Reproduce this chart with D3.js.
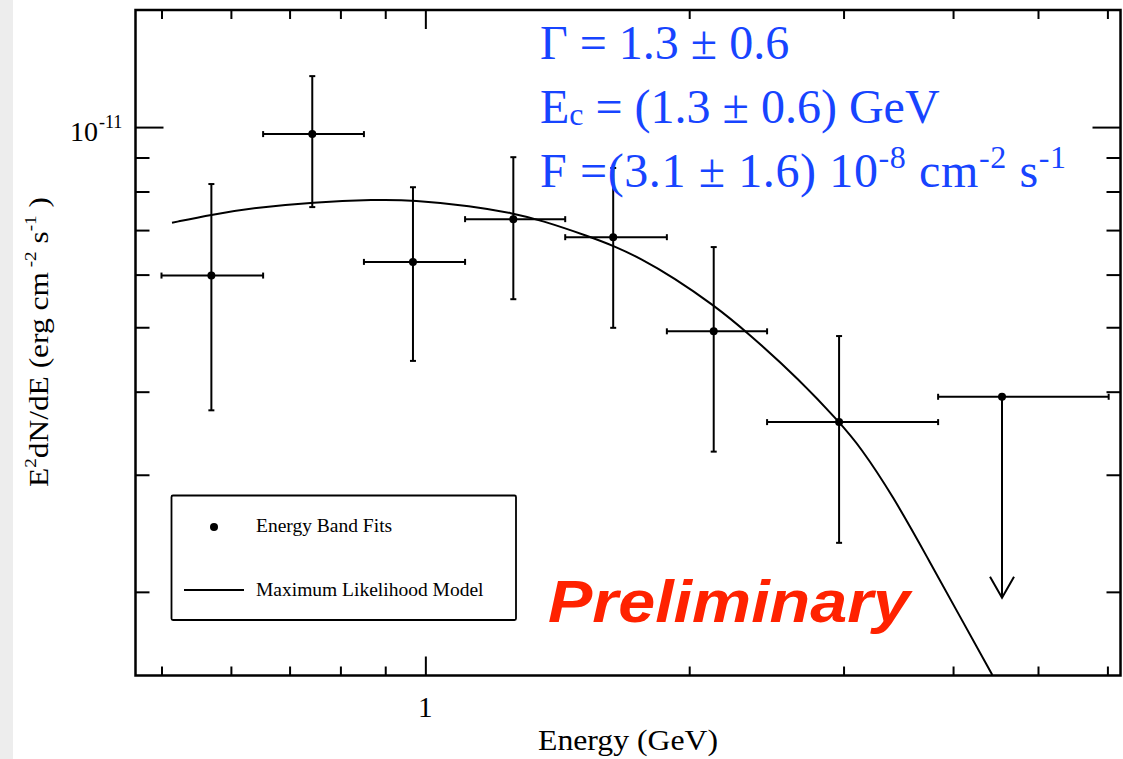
<!DOCTYPE html>
<html>
<head>
<meta charset="utf-8">
<script src="https://cdn.jsdelivr.net/npm/d3@7"></script>
<style>
  html, body { margin: 0; padding: 0; background: #fff; }
  svg { display: block; }
  .serif { font-family: "Liberation Serif", "Times New Roman", serif; }
</style>
</head>
<body>
<svg id="chart" width="1123" height="759"></svg>
<script>
// energy bins (GeV)
const eCenter = [0.570, 0.743, 0.968, 1.260, 1.638, 2.133, 2.965, 4.549];
const eLow    = [0.500, 0.653, 0.851, 1.110, 1.444, 1.886, 2.454, 3.846];
const eHigh   = [0.653, 0.851, 1.110, 1.444, 1.886, 2.454, 3.846, 6.020];
// E^2 dN/dE (erg cm^-2 s^-1)
const flux    = [5.98e-12, 9.76e-12, 6.27e-12, 7.27e-12, 6.83e-12, 4.93e-12, 3.60e-12, 3.93e-12];
const fluxHi  = [8.21e-12, 1.193e-11, 8.12e-12, 9.01e-12, 8.68e-12, 6.60e-12, 4.85e-12, null];
const fluxLo  = [3.75e-12, 7.58e-12, 4.45e-12, 5.51e-12, 4.99e-12, 3.25e-12, 2.37e-12, 1.96e-12];
const isLimit = [false, false, false, false, false, false, false, true];

// maximum likelihood model
const modelE = [0.514, 0.571, 0.643, 0.743, 0.877, 0.968, 1.129, 1.260, 1.352, 1.542, 1.639,
                1.759, 1.919, 2.132, 2.327, 2.677, 2.966, 3.133, 3.420, 3.734, 4.074, 4.435];
const modelF = [7.18e-12, 7.39e-12, 7.57e-12, 7.71e-12, 7.78e-12, 7.77e-12, 7.61e-12, 7.42e-12,
                7.25e-12, 6.84e-12, 6.63e-12, 6.35e-12, 5.94e-12, 5.40e-12, 4.92e-12, 4.16e-12,
                3.60e-12, 3.31e-12, 2.78e-12, 2.26e-12, 1.835e-12, 1.50e-12];

const xMajor = [1];
const xMinor = [0.5, 0.6, 0.7, 0.8, 0.9, 2, 3, 4, 5, 6];
const yMajor = [1e-11];
const yMinor = [2e-12, 3e-12, 4e-12, 5e-12, 6e-12, 7e-12, 8e-12, 9e-12];

const margin = { left: 135.5, right: 1120.5, top: 10, bottom: 675.5 };

const svg = d3.select('#chart');

// grey strip at the left edge of the screenshot
svg.append('rect')
  .attr('x', 0).attr('y', 0).attr('width', 13).attr('height', 759)
  .attr('fill', '#ededed');

const x = d3.scaleLog().domain([0.467, 6.21]).range([margin.left, margin.right]);
const y = d3.scaleLog().domain([1.497e-12, 1.5e-11]).range([margin.bottom, margin.top]);

const W = margin.right - margin.left, H = margin.bottom - margin.top;

function tickAxis(axis, scale, values, size, tx, ty) {
  const g = svg.append('g')
    .attr('transform', `translate(${tx},${ty})`)
    .call(axis(scale).tickValues(values).tickSize(size).tickSizeOuter(0).tickFormat(''));
  g.select('.domain').remove();
  g.selectAll('line').attr('stroke', '#000').attr('stroke-width', 2);
  return g;
}

// ticks point inward on all four sides
tickAxis(d3.axisTop, x, xMinor, 9, 0, margin.bottom);
tickAxis(d3.axisTop, x, xMajor, 19, 0, margin.bottom);
tickAxis(d3.axisBottom, x, xMinor, 9, 0, margin.top);
tickAxis(d3.axisBottom, x, xMajor, 19, 0, margin.top);
tickAxis(d3.axisRight, y, yMinor, 14, margin.left, 0);
tickAxis(d3.axisRight, y, yMajor, 28, margin.left, 0);
tickAxis(d3.axisLeft, y, yMinor, 14, margin.right, 0);
tickAxis(d3.axisLeft, y, yMajor, 28, margin.right, 0);

svg.append('rect')
  .attr('x', margin.left).attr('y', margin.top)
  .attr('width', W).attr('height', H)
  .attr('fill', 'none').attr('stroke', '#000').attr('stroke-width', 2.5);

// tick labels
svg.append('text').attr('class', 'serif')
  .attr('x', x(1)).attr('y', 717)
  .attr('text-anchor', 'middle').attr('font-size', 29)
  .text('1');

svg.append('text').attr('class', 'serif')
  .attr('x', 98).attr('y', y(1e-11) + 14)
  .attr('text-anchor', 'end').attr('font-size', 28)
  .text('10');
svg.append('text').attr('class', 'serif')
  .attr('x', 99).attr('y', y(1e-11) + 1)
  .attr('font-size', 18).text('-11');

// axis titles
svg.append('text').attr('class', 'serif')
  .attr('x', 538).attr('y', 750)
  .attr('font-size', 30)
  .attr('textLength', 180).attr('lengthAdjust', 'spacingAndGlyphs')
  .text('Energy (GeV)');

const yt = svg.append('text').attr('class', 'serif')
  .attr('transform', 'translate(48,487) rotate(-90)')
  .attr('font-size', 28)
  .attr('textLength', 290).attr('lengthAdjust', 'spacingAndGlyphs');
yt.append('tspan').text('E');
yt.append('tspan').attr('font-size', 17).attr('dy', -12).text('2');
yt.append('tspan').attr('dy', 12).text('dN/dE (erg cm');
yt.append('tspan').attr('font-size', 17).attr('dy', -12).text(' -2');
yt.append('tspan').attr('dy', 12).text(' s');
yt.append('tspan').attr('font-size', 17).attr('dy', -12).text('-1');
yt.append('tspan').attr('dy', 12).text(' )');

// model curve, clipped to the frame
svg.append('clipPath').attr('id', 'clip')
  .append('rect').attr('x', margin.left).attr('y', margin.top).attr('width', W).attr('height', H);

const model = modelE.map((e, i) => [e, modelF[i]]);
svg.append('path')
  .datum(model)
  .attr('clip-path', 'url(#clip)')
  .attr('fill', 'none').attr('stroke', '#000').attr('stroke-width', 2)
  .attr('d', d3.line().x(d => x(d[0])).y(d => y(d[1])).curve(d3.curveBasis));

// data points with error bars
const pts = eCenter.map((e, i) => ({
  e, lo: eLow[i], hi: eHigh[i], f: flux[i], fHi: fluxHi[i], fLo: fluxLo[i], lim: isLimit[i]
}));

const cap = 3;
const pg = svg.append('g').attr('stroke', '#000').attr('stroke-width', 2).attr('fill', 'none');
pts.forEach(d => {
  const cx = x(d.e), cy = y(d.f);
  // horizontal bar
  pg.append('line').attr('x1', x(d.lo)).attr('x2', x(d.hi)).attr('y1', cy).attr('y2', cy);
  pg.append('line').attr('x1', x(d.lo)).attr('x2', x(d.lo)).attr('y1', cy - cap).attr('y2', cy + cap);
  pg.append('line').attr('x1', x(d.hi)).attr('x2', x(d.hi)).attr('y1', cy - cap).attr('y2', cy + cap);
  if (d.lim) {
    const yb = y(d.fLo);
    pg.append('line').attr('x1', cx).attr('x2', cx).attr('y1', cy).attr('y2', yb);
    pg.append('path').attr('d', `M${cx - 12},${yb - 21}L${cx},${yb}L${cx + 12},${yb - 21}`);
  } else {
    const yt1 = y(d.fHi), yb = y(d.fLo);
    pg.append('line').attr('x1', cx).attr('x2', cx).attr('y1', yt1).attr('y2', yb);
    pg.append('line').attr('x1', cx - cap).attr('x2', cx + cap).attr('y1', yt1).attr('y2', yt1);
    pg.append('line').attr('x1', cx - cap).attr('x2', cx + cap).attr('y1', yb).attr('y2', yb);
  }
  svg.append('circle').attr('cx', cx).attr('cy', cy).attr('r', 4).attr('fill', '#000');
});

// legend
const lg = svg.append('g');
lg.append('rect')
  .attr('x', 171.5).attr('y', 495.5).attr('width', 344.5).attr('height', 124.5)
  .attr('rx', 1.5)
  .attr('fill', '#fff').attr('stroke', '#000').attr('stroke-width', 1.8);
lg.append('circle').attr('cx', 214).attr('cy', 527).attr('r', 4).attr('fill', '#000');
lg.append('text').attr('class', 'serif')
  .attr('x', 256).attr('y', 532).attr('font-size', 19.5).text('Energy Band Fits');
lg.append('line')
  .attr('x1', 184).attr('x2', 244).attr('y1', 590).attr('y2', 590)
  .attr('stroke', '#000').attr('stroke-width', 2);
lg.append('text').attr('class', 'serif')
  .attr('x', 256).attr('y', 596).attr('font-size', 19.5).text('Maximum Likelihood Model');

// fit parameters
const blue = '#1744ff';
const fit = svg.append('g').attr('class', 'serif').attr('fill', blue).attr('font-size', 48);
fit.append('text').attr('x', 540).attr('y', 59).text('Γ = 1.3 ± 0.6');
const l2 = fit.append('text').attr('x', 540).attr('y', 123);
l2.append('tspan').text('E');
l2.append('tspan').attr('font-size', 32).attr('dy', 2).text('c');
l2.append('tspan').attr('dy', -2).text(' = (1.3 ± 0.6) GeV');
const l3 = fit.append('text').attr('x', 540).attr('y', 187)
  .attr('textLength', 526).attr('lengthAdjust', 'spacing');
l3.append('tspan').text('F =(3.1 ± 1.6) 10');
l3.append('tspan').attr('font-size', 32).attr('dy', -19).text('-8');
l3.append('tspan').attr('dy', 19).text(' cm');
l3.append('tspan').attr('font-size', 32).attr('dy', -19).text('-2');
l3.append('tspan').attr('dy', 19).text(' s');
l3.append('tspan').attr('font-size', 32).attr('dy', -19).text('-1');

// watermark
svg.append('text')
  .attr('x', 548).attr('y', 622)
  .attr('font-family', '"Liberation Sans", Arial, sans-serif')
  .attr('font-weight', 'bold').attr('font-style', 'italic')
  .attr('font-size', 60).attr('fill', '#ff2200')
  .attr('textLength', 362).attr('lengthAdjust', 'spacingAndGlyphs')
  .text('Preliminary');
</script>
</body>
</html>
